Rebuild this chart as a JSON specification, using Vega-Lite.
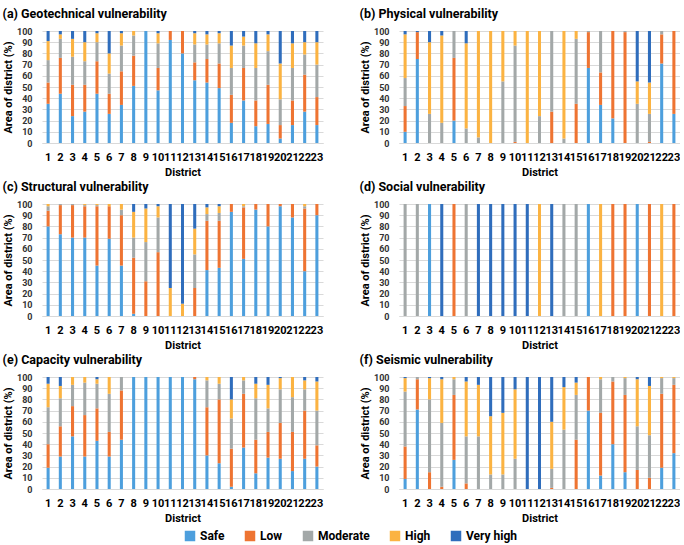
{
  "$schema": "https://vega.github.io/schema/vega-lite/v6.json",
  "padding": {"left": 2, "top": 7, "right": 0, "bottom": 0},
  "background": "white",
  "datasets": {
    "levels": [
      {"level": "Safe", "rank": 1},
      {"level": "Low", "rank": 2},
      {"level": "Moderate", "rank": 3},
      {"level": "High", "rank": 4},
      {"level": "Very high", "rank": 5}
    ],
    "vuln": [
      {"p":"a","d":1,"Safe":35,"Low":19,"Moderate":20,"High":17,"Very high":9},
      {"p":"a","d":2,"Safe":44,"Low":32,"Moderate":17,"High":4,"Very high":3},
      {"p":"a","d":3,"Safe":24,"Low":28,"Moderate":25,"High":16,"Very high":7},
      {"p":"a","d":4,"Safe":28,"Low":24,"Moderate":21,"High":17,"Very high":10},
      {"p":"a","d":5,"Safe":44,"Low":29,"Moderate":17,"High":8,"Very high":2},
      {"p":"a","d":6,"Safe":26,"Low":18,"Moderate":18,"High":18,"Very high":20},
      {"p":"a","d":7,"Safe":34,"Low":30,"Moderate":23,"High":11,"Very high":2},
      {"p":"a","d":8,"Safe":51,"Low":27,"Moderate":18,"High":4},
      {"p":"a","d":9,"Safe":100},
      {"p":"a","d":10,"Safe":47,"Low":20,"Moderate":22,"High":9,"Very high":2},
      {"p":"a","d":11,"Safe":92,"Low":8},
      {"p":"a","d":12,"Safe":80,"Low":20},
      {"p":"a","d":13,"Safe":56,"Low":16,"Moderate":16,"High":10,"Very high":2},
      {"p":"a","d":14,"Safe":54,"Low":21,"Moderate":13,"High":9,"Very high":3},
      {"p":"a","d":15,"Safe":49,"Low":22,"Moderate":18,"High":9,"Very high":2},
      {"p":"a","d":16,"Safe":18,"Low":25,"Moderate":24,"High":20,"Very high":13},
      {"p":"a","d":17,"Safe":38,"Low":29,"Moderate":20,"High":8,"Very high":5},
      {"p":"a","d":18,"Safe":15,"Low":23,"Moderate":29,"High":22,"Very high":11},
      {"p":"a","d":19,"Safe":17,"Low":35,"Moderate":30,"High":15,"Very high":3},
      {"p":"a","d":20,"Safe":4,"Low":12,"Moderate":23,"High":32,"Very high":29},
      {"p":"a","d":21,"Safe":16,"Low":22,"Moderate":29,"High":22,"Very high":11},
      {"p":"a","d":22,"Safe":28,"Low":33,"Moderate":18,"High":11,"Very high":10},
      {"p":"a","d":23,"Safe":16,"Low":25,"Moderate":29,"High":20,"Very high":10},

      {"p":"b","d":1,"Safe":10,"Low":23,"Moderate":25,"High":39,"Very high":3},
      {"p":"b","d":2,"Safe":75,"Low":24,"Very high":1},
      {"p":"b","d":3,"Moderate":26,"High":64,"Very high":10},
      {"p":"b","d":4,"Moderate":18,"High":78,"Very high":4},
      {"p":"b","d":5,"Safe":20,"Low":56,"Moderate":24},
      {"p":"b","d":6,"Moderate":13,"High":76,"Very high":11},
      {"p":"b","d":7,"Moderate":5,"High":95},
      {"p":"b","d":8,"High":100},
      {"p":"b","d":9,"Moderate":55,"High":45},
      {"p":"b","d":10,"Low":1,"Moderate":86,"High":13},
      {"p":"b","d":11,"High":100},
      {"p":"b","d":12,"Moderate":24,"High":76},
      {"p":"b","d":13,"Low":28,"Moderate":72},
      {"p":"b","d":14,"Moderate":4,"High":96},
      {"p":"b","d":15,"Low":35,"Moderate":58,"High":7},
      {"p":"b","d":16,"Safe":67,"Low":32,"Moderate":1},
      {"p":"b","d":17,"Safe":34,"Low":29,"Moderate":37},
      {"p":"b","d":18,"Safe":22,"Low":78},
      {"p":"b","d":19,"Low":99,"Moderate":1},
      {"p":"b","d":20,"Moderate":35,"High":20,"Very high":45},
      {"p":"b","d":21,"Low":1,"Moderate":25,"High":28,"Very high":46},
      {"p":"b","d":22,"Safe":71,"Low":26,"Moderate":3},
      {"p":"b","d":23,"Safe":26,"Low":74},

      {"p":"c","d":1,"Safe":80,"Low":14,"Moderate":4,"High":2},
      {"p":"c","d":2,"Safe":73,"Low":26,"Moderate":1},
      {"p":"c","d":3,"Safe":70,"Low":29,"Moderate":1},
      {"p":"c","d":4,"Safe":70,"Low":28,"Moderate":1,"High":1},
      {"p":"c","d":5,"Safe":45,"Low":53,"Moderate":1,"High":1},
      {"p":"c","d":6,"Safe":69,"Low":29,"High":2},
      {"p":"c","d":7,"Safe":45,"Low":45,"Moderate":5,"High":5},
      {"p":"c","d":8,"Safe":2,"Low":50,"Moderate":18,"High":23,"Very high":7},
      {"p":"c","d":9,"Low":31,"Moderate":35,"High":30,"Very high":4},
      {"p":"c","d":10,"Low":57,"Moderate":31,"High":10,"Very high":2},
      {"p":"c","d":11,"High":25,"Very high":75},
      {"p":"c","d":12,"High":11,"Very high":89},
      {"p":"c","d":13,"Low":25,"Moderate":30,"High":23,"Very high":22},
      {"p":"c","d":14,"Safe":41,"Low":44,"Moderate":6,"High":6,"Very high":3},
      {"p":"c","d":15,"Safe":43,"Low":42,"Moderate":7,"High":6,"Very high":2},
      {"p":"c","d":16,"Safe":93,"Low":7},
      {"p":"c","d":17,"Safe":51,"Low":46,"Moderate":1,"High":2},
      {"p":"c","d":18,"Safe":95,"Low":5},
      {"p":"c","d":19,"Safe":80,"Low":20},
      {"p":"c","d":20,"Safe":98,"Low":2},
      {"p":"c","d":21,"Safe":88,"Low":12},
      {"p":"c","d":22,"Safe":40,"Low":56,"Moderate":2,"High":2},
      {"p":"c","d":23,"Safe":90,"Low":10},

      {"p":"d","d":1,"Moderate":100},
      {"p":"d","d":2,"Moderate":100},
      {"p":"d","d":3,"Safe":100},
      {"p":"d","d":4,"Very high":100},
      {"p":"d","d":5,"Low":100},
      {"p":"d","d":6,"Moderate":100},
      {"p":"d","d":7,"Very high":100},
      {"p":"d","d":8,"Very high":100},
      {"p":"d","d":9,"Very high":100},
      {"p":"d","d":10,"Very high":100},
      {"p":"d","d":11,"Very high":100},
      {"p":"d","d":12,"High":100},
      {"p":"d","d":13,"Very high":100},
      {"p":"d","d":14,"Moderate":100},
      {"p":"d","d":15,"Moderate":100},
      {"p":"d","d":16,"Safe":100},
      {"p":"d","d":17,"High":100},
      {"p":"d","d":18,"Low":100},
      {"p":"d","d":19,"Low":100},
      {"p":"d","d":20,"Safe":100},
      {"p":"d","d":21,"Low":100},
      {"p":"d","d":22,"High":100},
      {"p":"d","d":23,"Low":100},

      {"p":"e","d":1,"Safe":19,"Low":21,"Moderate":33,"High":21,"Very high":6},
      {"p":"e","d":2,"Safe":29,"Low":27,"Moderate":25,"High":11,"Very high":8},
      {"p":"e","d":3,"Safe":47,"Low":27,"Moderate":19,"High":7},
      {"p":"e","d":4,"Safe":29,"Low":37,"Moderate":29,"High":5},
      {"p":"e","d":5,"Safe":43,"Low":29,"Moderate":22,"High":4,"Very high":2},
      {"p":"e","d":6,"Safe":29,"Low":22,"Moderate":34,"High":15},
      {"p":"e","d":7,"Safe":44,"Low":44,"Moderate":12},
      {"p":"e","d":8,"Safe":100},
      {"p":"e","d":9,"Safe":100},
      {"p":"e","d":10,"Safe":100},
      {"p":"e","d":11,"Safe":100},
      {"p":"e","d":12,"Safe":100},
      {"p":"e","d":13,"Safe":98,"Low":2},
      {"p":"e","d":14,"Safe":30,"Low":43,"Moderate":24,"High":3},
      {"p":"e","d":15,"Safe":23,"Low":57,"Moderate":14,"High":6},
      {"p":"e","d":16,"Safe":2,"Low":34,"Moderate":27,"High":17,"Very high":20},
      {"p":"e","d":17,"Safe":37,"Low":48,"Moderate":12,"High":3},
      {"p":"e","d":18,"Safe":14,"Low":30,"Moderate":37,"High":13,"Very high":6},
      {"p":"e","d":19,"Safe":28,"Low":23,"Moderate":21,"High":21,"Very high":7},
      {"p":"e","d":20,"Safe":27,"Low":32,"Moderate":30,"High":10,"Very high":1},
      {"p":"e","d":21,"Safe":16,"Low":35,"Moderate":31,"High":18},
      {"p":"e","d":22,"Safe":27,"Low":43,"Moderate":19,"High":8,"Very high":3},
      {"p":"e","d":23,"Safe":20,"Low":19,"Moderate":31,"High":26,"Very high":4},

      {"p":"f","d":1,"Safe":9,"Low":29,"Moderate":49,"High":12,"Very high":1},
      {"p":"f","d":2,"Safe":71,"Low":27,"Moderate":2},
      {"p":"f","d":3,"Low":15,"Moderate":65,"High":19,"Very high":1},
      {"p":"f","d":4,"Low":2,"Moderate":57,"High":39,"Very high":2},
      {"p":"f","d":5,"Safe":26,"Low":58,"Moderate":14,"High":2},
      {"p":"f","d":6,"Low":5,"Moderate":42,"High":49,"Very high":4},
      {"p":"f","d":7,"Moderate":47,"High":46,"Very high":7},
      {"p":"f","d":8,"Moderate":13,"High":52,"Very high":35},
      {"p":"f","d":9,"Moderate":13,"High":55,"Very high":32},
      {"p":"f","d":10,"Moderate":27,"High":62,"Very high":11},
      {"p":"f","d":11,"Very high":100},
      {"p":"f","d":12,"Very high":100},
      {"p":"f","d":13,"Low":1,"Moderate":17,"High":42,"Very high":40},
      {"p":"f","d":14,"Moderate":53,"High":38,"Very high":9},
      {"p":"f","d":15,"Low":44,"Moderate":40,"High":11,"Very high":5},
      {"p":"f","d":16,"Safe":70,"Low":30},
      {"p":"f","d":17,"Safe":12,"Low":56,"Moderate":30,"High":2},
      {"p":"f","d":18,"Safe":40,"Low":56,"Moderate":4},
      {"p":"f","d":19,"Safe":15,"Low":69,"Moderate":15,"High":1},
      {"p":"f","d":20,"Low":17,"Moderate":39,"High":42,"Very high":2},
      {"p":"f","d":21,"Low":10,"Moderate":38,"High":44,"Very high":8},
      {"p":"f","d":22,"Safe":19,"Low":66,"Moderate":14,"High":1},
      {"p":"f","d":23,"Safe":32,"Low":61,"Moderate":6,"High":1}
    ]
  },
  "data": {"name": "vuln"},
  "transform": [
    {"fold": ["Safe", "Low", "Moderate", "High", "Very high"], "as": ["level", "share"]},
    {"filter": "datum.share > 0"},
    {"lookup": "level", "from": {"data": {"name": "levels"}, "key": "level", "fields": ["rank"]}}
  ],
  "columns": 2,
  "spacing": {"row": 3, "column": 36},
  "concat": [
    {
      "title": "(a) Geotechnical vulnerability",
      "transform": [{"filter": "datum.p === 'a'"}],
      "width": 281, "height": 112,
      "mark": {"type": "bar", "width": {"band": 0.5}},
      "encoding": {
        "x": {"field": "d", "type": "ordinal", "title": "District", "scale": {"paddingInner": 0.5, "paddingOuter": 0.25}},
        "y": {"field": "share", "type": "quantitative", "stack": "zero", "title": "Area of district (%)", "scale": {"domain": [0, 100]}, "axis": {"values": [0,10,20,30,40,50,60,70,80,90,100]}},
        "color": {"field": "level", "type": "nominal", "scale": {"domain": ["Safe", "Low", "Moderate", "High", "Very high"], "range": ["#4D9FDD", "#EE7432", "#A3A8A8", "#FBB342", "#2F6DBC"]}, "legend": {"title": null, "orient": "none", "direction": "horizontal", "legendX": 140, "legendY": 497}},
        "order": {"field": "rank", "type": "quantitative"}
      }
    },
    {
      "title": "(b) Physical vulnerability",
      "transform": [{"filter": "datum.p === 'b'"}],
      "width": 281, "height": 112,
      "mark": {"type": "bar", "width": {"band": 0.5}},
      "encoding": {
        "x": {"field": "d", "type": "ordinal", "title": "District", "scale": {"paddingInner": 0.5, "paddingOuter": 0.25}},
        "y": {"field": "share", "type": "quantitative", "stack": "zero", "title": "Area of district (%)", "scale": {"domain": [0, 100]}, "axis": {"values": [0,10,20,30,40,50,60,70,80,90,100]}},
        "color": {"field": "level", "type": "nominal", "scale": {"domain": ["Safe", "Low", "Moderate", "High", "Very high"], "range": ["#4D9FDD", "#EE7432", "#A3A8A8", "#FBB342", "#2F6DBC"]}, "legend": {"title": null, "orient": "none", "direction": "horizontal", "legendX": 140, "legendY": 497}},
        "order": {"field": "rank", "type": "quantitative"}
      }
    },
    {
      "title": "(c) Structural vulnerability",
      "transform": [{"filter": "datum.p === 'c'"}],
      "width": 281, "height": 112,
      "mark": {"type": "bar", "width": {"band": 0.5}},
      "encoding": {
        "x": {"field": "d", "type": "ordinal", "title": "District", "scale": {"paddingInner": 0.5, "paddingOuter": 0.25}},
        "y": {"field": "share", "type": "quantitative", "stack": "zero", "title": "Area of district (%)", "scale": {"domain": [0, 100]}, "axis": {"values": [0,10,20,30,40,50,60,70,80,90,100]}},
        "color": {"field": "level", "type": "nominal", "scale": {"domain": ["Safe", "Low", "Moderate", "High", "Very high"], "range": ["#4D9FDD", "#EE7432", "#A3A8A8", "#FBB342", "#2F6DBC"]}, "legend": {"title": null, "orient": "none", "direction": "horizontal", "legendX": 140, "legendY": 497}},
        "order": {"field": "rank", "type": "quantitative"}
      }
    },
    {
      "title": "(d) Social vulnerability",
      "transform": [{"filter": "datum.p === 'd'"}],
      "width": 281, "height": 112,
      "mark": {"type": "bar", "width": {"band": 0.5}},
      "encoding": {
        "x": {"field": "d", "type": "ordinal", "title": "District", "scale": {"paddingInner": 0.5, "paddingOuter": 0.25}},
        "y": {"field": "share", "type": "quantitative", "stack": "zero", "title": "Area of district (%)", "scale": {"domain": [0, 100]}, "axis": {"values": [0,10,20,30,40,50,60,70,80,90,100]}},
        "color": {"field": "level", "type": "nominal", "scale": {"domain": ["Safe", "Low", "Moderate", "High", "Very high"], "range": ["#4D9FDD", "#EE7432", "#A3A8A8", "#FBB342", "#2F6DBC"]}, "legend": {"title": null, "orient": "none", "direction": "horizontal", "legendX": 140, "legendY": 497}},
        "order": {"field": "rank", "type": "quantitative"}
      }
    },
    {
      "title": "(e) Capacity vulnerability",
      "transform": [{"filter": "datum.p === 'e'"}],
      "width": 281, "height": 112,
      "mark": {"type": "bar", "width": {"band": 0.5}},
      "encoding": {
        "x": {"field": "d", "type": "ordinal", "title": "District", "scale": {"paddingInner": 0.5, "paddingOuter": 0.25}},
        "y": {"field": "share", "type": "quantitative", "stack": "zero", "title": "Area of district (%)", "scale": {"domain": [0, 100]}, "axis": {"values": [0,10,20,30,40,50,60,70,80,90,100]}},
        "color": {"field": "level", "type": "nominal", "scale": {"domain": ["Safe", "Low", "Moderate", "High", "Very high"], "range": ["#4D9FDD", "#EE7432", "#A3A8A8", "#FBB342", "#2F6DBC"]}, "legend": {"title": null, "orient": "none", "direction": "horizontal", "legendX": 140, "legendY": 497}},
        "order": {"field": "rank", "type": "quantitative"}
      }
    },
    {
      "title": "(f) Seismic vulnerability",
      "transform": [{"filter": "datum.p === 'f'"}],
      "width": 281, "height": 112,
      "mark": {"type": "bar", "width": {"band": 0.5}},
      "encoding": {
        "x": {"field": "d", "type": "ordinal", "title": "District", "scale": {"paddingInner": 0.5, "paddingOuter": 0.25}},
        "y": {"field": "share", "type": "quantitative", "stack": "zero", "title": "Area of district (%)", "scale": {"domain": [0, 100]}, "axis": {"values": [0,10,20,30,40,50,60,70,80,90,100]}},
        "color": {"field": "level", "type": "nominal", "scale": {"domain": ["Safe", "Low", "Moderate", "High", "Very high"], "range": ["#4D9FDD", "#EE7432", "#A3A8A8", "#FBB342", "#2F6DBC"]}, "legend": {"title": null, "orient": "none", "direction": "horizontal", "legendX": 140, "legendY": 497}},
        "order": {"field": "rank", "type": "quantitative"}
      }
    }
  ],
  "config": {
    "font": "Roboto",
    "view": {"stroke": null},
    "title": {"anchor": "start", "frame": "bounds", "font": "Roboto", "fontSize": 12.5, "fontWeight": "bold", "color": "#000", "offset": 7},
    "axisX": {"labelFontSize": 11, "labelFontWeight": "bold", "labelColor": "#000", "labelAngle": 0, "labelPadding": 8, "ticks": false, "domainColor": "#d9d9d9", "titleFontSize": 11, "titleFontWeight": "bold", "titleColor": "#000", "titlePadding": 4, "grid": false},
    "axisY": {"labelFontSize": 9, "labelFontWeight": "bold", "labelColor": "#333", "labelPadding": 10, "ticks": false, "domain": false, "gridColor": "#d9d9d9", "titleFontSize": 11, "titleFontWeight": "bold", "titleColor": "#000", "titlePadding": 3},
    "legend": {"symbolType": "square", "symbolSize": 110, "symbolStrokeWidth": 0, "labelFontSize": 12, "labelFontWeight": "bold", "labelColor": "#000", "columnPadding": 19, "padding": 2}
  }
}
